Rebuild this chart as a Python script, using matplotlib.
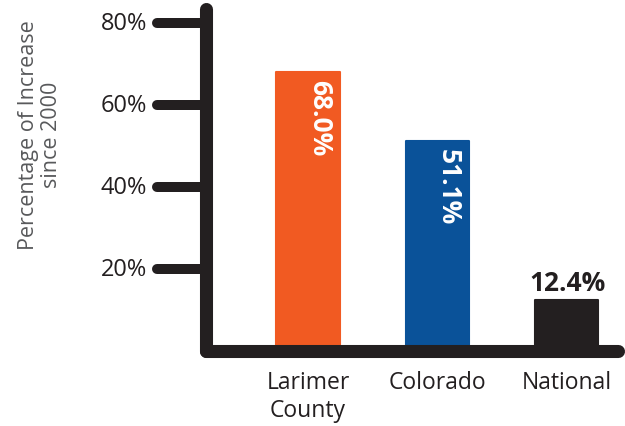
import matplotlib.pyplot as plt

# data
categories = ["Larimer\nCounty", "Colorado", "National"]
values = [68.0, 51.1, 12.4]
labels = ["68.0%", "51.1%", "12.4%"]
colors = ["#F15A22", "#0A5299", "#231F20"]
yticks = [20, 40, 60, 80]
ytick_labels = ["20%", "40%", "60%", "80%"]

plt.rcParams["font.family"] = ["Open Sans", "DejaVu Sans"]
dark = "#231F20"

fig = plt.figure(figsize=(6.25, 4.27), dpi=100)
# axes spans from the y-axis line (x=206px) to the end of the baseline (618px)
ax = fig.add_axes([206 / 625, 75 / 427, 412 / 625, 342 / 427])
xmin, xmax = -0.79, 2.40
ymax = 83.4
ax.set_xlim(xmin, xmax)
ax.set_ylim(0, ymax)
ax.axis("off")

x = list(range(len(values)))
ax.bar(x, values, width=0.49, color=colors, edgecolor=colors,
       linewidth=1.5, joinstyle="round", zorder=2)

# axis lines with rounded caps
ax.plot([xmin, xmin], [0, ymax], color=dark, lw=9.4,
        solid_capstyle="round", clip_on=False, zorder=3)
ax.plot([xmin, xmax], [0, 0], color=dark, lw=9.4,
        solid_capstyle="round", clip_on=False, zorder=3)

# tick marks sticking out to the left
tick_left = xmin - 0.38
for t, lab in zip(yticks, ytick_labels):
    ax.plot([tick_left, xmin], [t, t], color=dark, lw=7.2,
            solid_capstyle="round", clip_on=False, zorder=3)
    ax.annotate(lab, (tick_left, t), xytext=(-7, 0), textcoords="offset points",
                ha="right", va="center", fontsize=17, color=dark,
                annotation_clip=False)

# category labels
for i, cat in enumerate(categories):
    ax.annotate(cat, (i, 0), xytext=(0, -14), textcoords="offset points",
                ha="center", va="top", fontsize=16.5, color=dark,
                linespacing=1.2, annotation_clip=False)

# value labels
for i, (v, lab) in enumerate(zip(values, labels)):
    if v > 30:
        ax.annotate(lab, (i, v), xytext=(8, -5), textcoords="offset points",
                    rotation=-90, ha="center", va="top", fontsize=19,
                    fontweight="bold", color="white", zorder=4)
    else:
        ax.annotate(lab, (i, v), xytext=(1, 3), textcoords="offset points",
                    ha="center", va="bottom", fontsize=19,
                    fontweight="bold", color=dark, zorder=4)

fig.text(40 / 625, 1 - 135 / 427, "Percentage of Increase\nsince 2000",
         rotation=90, ha="center", va="center", fontsize=15.5,
         color="#58595B", linespacing=1.1)

fig.savefig("out.png", dpi=100)
